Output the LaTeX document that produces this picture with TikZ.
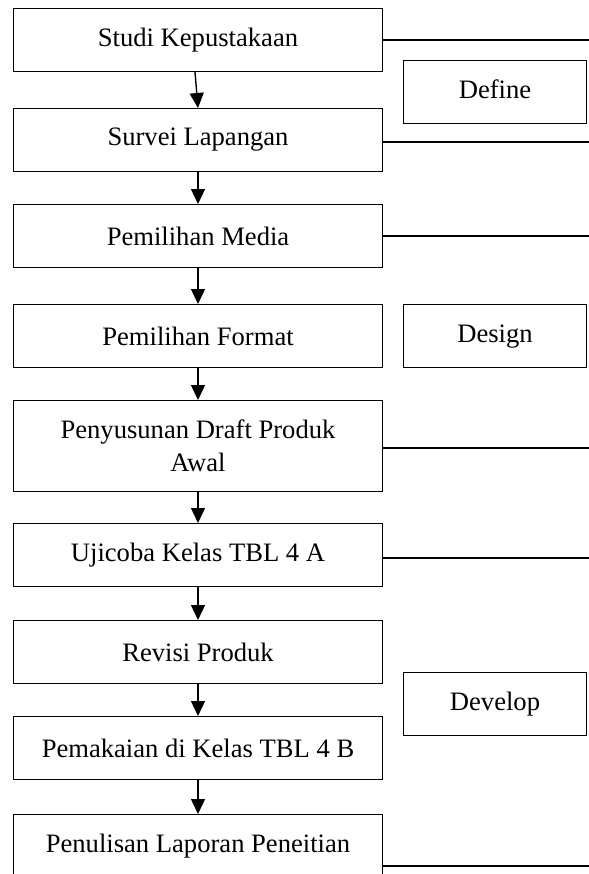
\documentclass[tikz,border=0pt]{standalone}
\usepackage{fontspec}
\setmainfont{Liberation Serif}
\usetikzlibrary{arrows.meta,positioning}

\begin{document}
\begin{tikzpicture}[
  x=0.5pt,y=-0.5pt,
  stage/.style={draw,line width=0.7pt,minimum width=184.3pt,minimum height=31.3pt,align=center,inner sep=0pt,font=\fontsize{13.3}{16.5}\selectfont},
  phase/.style={draw,line width=0.7pt,minimum width=91.3pt,minimum height=31.3pt,inner sep=0pt,text height=0.75em,text depth=0.15em,font=\fontsize{13.3}{16.5}\selectfont},
  link/.style={line width=0.7pt},
  >={Triangle[length=7.5pt,width=7pt]}]
\fill[white] (0,0) rectangle (589,874);
\useasboundingbox (0,0) rectangle (589,874);
\clip (0,0) rectangle (589,874);
\coordinate (edge) at (589,0);
\node[stage,anchor=north] (s1) at (198,8) {Studi Kepustakaan};
\node[stage,below=18pt of s1] (s2) {Survei Lapangan};
\node[stage,below=16pt of s2] (s3) {Pemilihan Media};
\node[stage,below=18pt of s3] (s4) {Pemilihan Format};
\node[stage,below=16pt of s4,minimum height=45.3pt] (s5) {Penyusunan Draft Produk\\Awal};
\node[stage,below=15.5pt of s5] (s6) {Ujicoba Kelas TBL 4 A};
\node[stage,below=16.5pt of s6] (s7) {Revisi Produk};
\node[stage,below=16pt of s7] (s8) {Pemakaian di Kelas TBL 4 B};
\node[stage,below=17pt of s8] (s9) {Penulisan Laporan Peneitian};
\node[phase] (define) at (495,92) {Define};
\node[phase,right=10pt of s4] (design) {Design};
\node[phase] (develop) at (495,704) {Develop};
\draw[link,->] ([xshift=-1.5pt]s1.south) -- (s2.north);
\draw[link,->] (s2.south) -- (s3.north);
\draw[link,->] (s3.south) -- (s4.north);
\draw[link,->] (s4.south) -- (s5.north);
\draw[link,->] (s5.south) -- (s6.north);
\draw[link,->] (s6.south) -- (s7.north);
\draw[link,->] (s7.south) -- (s8.north);
\draw[link,->] (s8.south) -- (s9.north);
\draw[link] (s1.east) -- (s1.east -| edge);
\draw[link] ([yshift=-1pt]s2.east) -- ([yshift=-1pt]s2.east -| edge);
\draw[link] (s3.east) -- (s3.east -| edge);
\draw[link] ([yshift=-1pt]s5.east) -- ([yshift=-1pt]s5.east -| edge);
\draw[link] ([yshift=-1.5pt]s6.east) -- ([yshift=-1.5pt]s6.east -| edge);
\draw[link] ([yshift=-10pt]s9.east) -- ([yshift=-10pt]s9.east -| edge);
\end{tikzpicture}
\end{document}
